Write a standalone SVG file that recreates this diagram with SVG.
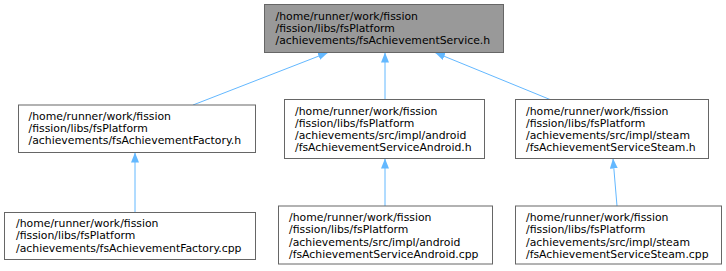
<svg xmlns="http://www.w3.org/2000/svg" width="726" height="271" viewBox="0 0 726 271">
<style>
.box{fill:#ffffff;stroke:#666666;stroke-width:1}
.root{fill:#999999;stroke:#666666;stroke-width:1}
text{font-family:"DejaVu Sans",sans-serif;font-size:10.85px;fill:#000000}
.edge{stroke:#63b8ff;stroke-width:1;fill:none}
</style>
<defs>
<marker id="ah" markerUnits="userSpaceOnUse" markerWidth="11" markerHeight="8" refX="10" refY="4" orient="auto"><path d="M0,0 L10,4 L0,8 z" fill="#63b8ff"/></marker>
</defs>
<g id="connectors">
<path class="edge" marker-end="url(#ah)" d="M193,105 L328,52.5"/>
<path class="edge" marker-end="url(#ah)" d="M385,99.5 L385,52.5"/>
<path class="edge" marker-end="url(#ah)" d="M550,99.5 L435,52.5"/>
<path class="edge" marker-end="url(#ah)" d="M135,212.5 L135,152.5"/>
<path class="edge" marker-end="url(#ah)" d="M385,206 L385,158.5"/>
<path class="edge" marker-end="url(#ah)" d="M617,206 L613,158.5"/>
</g>
<g id="node1">
<rect class="root" x="264.5" y="4.5" width="239" height="48"/>
<text x="275.5" y="19.5">/home/runner/work/fission</text>
<text x="275.5" y="31.75">/fission/libs/fsPlatform</text>
<text x="275.5" y="44">/achievements/fsAchievementService.h</text>
</g>
<g id="node2">
<rect class="box" x="18.5" y="105" width="237" height="47.5"/>
<text x="28.5" y="119.5">/home/runner/work/fission</text>
<text x="28.5" y="131.75">/fission/libs/fsPlatform</text>
<text x="28.5" y="144">/achievements/fsAchievementFactory.h</text>
</g>
<g id="node3">
<rect class="box" x="284.5" y="99.5" width="200" height="59"/>
<text x="295" y="114.5">/home/runner/work/fission</text>
<text x="295" y="126.75">/fission/libs/fsPlatform</text>
<text x="295" y="139">/achievements/src/impl/android</text>
<text x="295" y="151.25">/fsAchievementServiceAndroid.h</text>
</g>
<g id="node4">
<rect class="box" x="515.5" y="99.5" width="193" height="59"/>
<text x="526" y="114.5">/home/runner/work/fission</text>
<text x="526" y="126.75">/fission/libs/fsPlatform</text>
<text x="526" y="139">/achievements/src/impl/steam</text>
<text x="526" y="151.25">/fsAchievementServiceSteam.h</text>
</g>
<g id="node5">
<rect class="box" x="4.5" y="212.5" width="251" height="47"/>
<text x="16" y="227">/home/runner/work/fission</text>
<text x="16" y="239.25">/fission/libs/fsPlatform</text>
<text x="16" y="251.5">/achievements/fsAchievementFactory.cpp</text>
</g>
<g id="node6">
<rect class="box" x="278.5" y="206" width="214" height="58"/>
<text x="289" y="221">/home/runner/work/fission</text>
<text x="289" y="233.25">/fission/libs/fsPlatform</text>
<text x="289" y="245.5">/achievements/src/impl/android</text>
<text x="289" y="257.75">/fsAchievementServiceAndroid.cpp</text>
</g>
<g id="node7">
<rect class="box" x="515.5" y="206" width="206" height="58"/>
<text x="526" y="221">/home/runner/work/fission</text>
<text x="526" y="233.25">/fission/libs/fsPlatform</text>
<text x="526" y="245.5">/achievements/src/impl/steam</text>
<text x="526" y="257.75">/fsAchievementServiceSteam.cpp</text>
</g>
</svg>
